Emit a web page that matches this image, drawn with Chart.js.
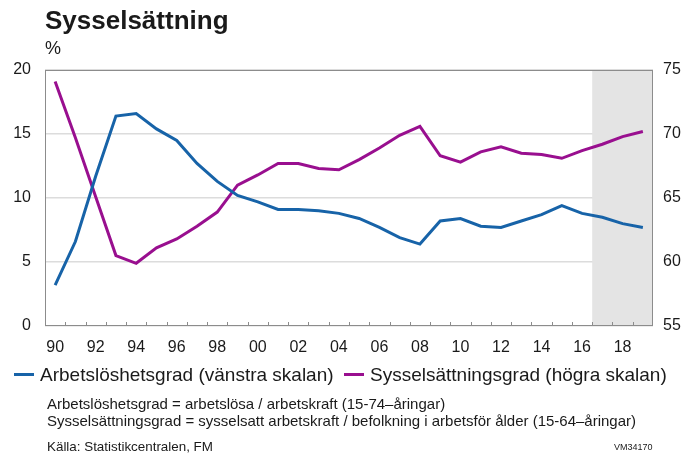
<!DOCTYPE html>
<html>
<head>
<meta charset="utf-8">
<script src="https://cdn.jsdelivr.net/npm/chart.js@4"></script>
<style>
  html, body { margin: 0; padding: 0; background: #fff; }
  body { width: 689px; height: 453px; position: relative; overflow: hidden;
         font-family: "Liberation Sans", Arial, sans-serif; color: #1a1a1a; }
  #chart { position: absolute; left: 0; top: 0; }
  .txt { position: absolute; white-space: nowrap; }
  .title { left: 45px; top: 5px; font-size: 26px; font-weight: bold; }
  .unit { left: 45px; top: 38px; font-size: 18px; }
  .legend { top: 364px; font-size: 19px; }
  .swatch { display: inline-block; width: 20px; height: 3px; vertical-align: middle; margin-right: 6px; position: relative; top: -1px; }
  .note { left: 47px; font-size: 15px; }
  .src { left: 47px; top: 439px; font-size: 13.4px; }
  .code { left: 614px; top: 442px; font-size: 9px; }
</style>
</head>
<body>
<canvas id="chart" width="689" height="453"></canvas>
<div class="txt title">Sysselsättning</div>
<div class="txt unit">%</div>
<div class="txt legend" style="left:14px"><span class="swatch" style="background:#1763a8"></span>Arbetslöshetsgrad (vänstra skalan)</div>
<div class="txt legend" style="left:344px"><span class="swatch" style="background:#990f8f"></span>Sysselsättningsgrad (högra skalan)</div>
<div class="txt note" style="top:395px">Arbetslöshetsgrad = arbetslösa / arbetskraft (15-74–åringar)</div>
<div class="txt note" style="top:412px">Sysselsättningsgrad = sysselsatt arbetskraft / befolkning i arbetsför ålder (15-64–åringar)</div>
<div class="txt src">Källa: Statistikcentralen, FM</div>
<div class="txt code">VM34170</div>
<script>
const years = ["90","91","92","93","94","95","96","97","98","99","00","01","02","03","04",
  "05","06","07","08","09","10","11","12","13","14","15","16","17","18","19"];
const unemployment = [3.2, 6.6, 11.7, 16.4, 16.6, 15.4, 14.5, 12.7, 11.3, 10.2, 9.7, 9.1, 9.1, 9.0, 8.8,
  8.4, 7.7, 6.9, 6.4, 8.2, 8.4, 7.8, 7.7, 8.2, 8.7, 9.4, 8.8, 8.5, 8.0, 7.7];
const employment = [74.1, 69.7, 65.1, 60.5, 59.9, 61.1, 61.8, 62.8, 63.9, 66.0, 66.8, 67.7, 67.7, 67.3, 67.2,
  68.0, 68.9, 69.9, 70.6, 68.3, 67.8, 68.6, 69.0, 68.5, 68.4, 68.1, 68.7, 69.2, 69.8, 70.2];
const leftTicks = [0, 5, 10, 15, 20];
const rightTicks = [55, 60, 65, 70, 75];
const forecastFrom = "17";

const tickFont = { family: "'Liberation Sans', Arial, sans-serif", size: 16 };

// shaded forecast area, frame and inner tick marks
const decor = {
  id: "decor",
  beforeDatasetsDraw(chart) {
    const { ctx, chartArea: a, scales: { x } } = chart;
    const half = (x.getPixelForValue(1) - x.getPixelForValue(0)) / 2;
    const start = x.getPixelForValue(years.indexOf(forecastFrom)) - half;
    ctx.save();
    ctx.fillStyle = "#e4e4e4";
    ctx.fillRect(start, a.top, a.right - start, a.bottom - a.top);
    ctx.restore();
  },
  afterDatasetsDraw(chart) {
    const { ctx, chartArea: a, scales: { x } } = chart;
    const half = (x.getPixelForValue(1) - x.getPixelForValue(0)) / 2;
    ctx.save();
    ctx.strokeStyle = "#8c8c8c";
    ctx.lineWidth = 1;
    ctx.beginPath();
    for (let i = 1; i < years.length; i++) {
      const px = Math.round(x.getPixelForValue(i) - half) + 0.5;
      ctx.moveTo(px, a.bottom);
      ctx.lineTo(px, a.bottom - 4);
    }
    ctx.stroke();
    ctx.strokeRect(a.left + 0.5, a.top + 0.5, a.right - a.left - 1, a.bottom - a.top - 1);
    ctx.restore();
  }
};

new Chart(document.getElementById("chart"), {
  type: "line",
  data: {
    labels: years,
    datasets: [
      { label: "Arbetslöshetsgrad (vänstra skalan)", data: unemployment, yAxisID: "y",
        borderColor: "#1763a8", borderWidth: 3, pointRadius: 0, tension: 0 },
      { label: "Sysselsättningsgrad (högra skalan)", data: employment, yAxisID: "y2",
        borderColor: "#990f8f", borderWidth: 3, pointRadius: 0, tension: 0 }
    ]
  },
  options: {
    responsive: false,
    animation: false,
    layout: { padding: { top: 70, bottom: 97, left: 0, right: 0 } },
    plugins: { legend: { display: false }, tooltip: { enabled: false } },
    scales: {
      x: {
        offset: true,
        grid: { display: false, drawTicks: false },
        border: { display: false },
        afterFit(s) { s.height = 30; },
        ticks: {
          autoSkip: false, maxRotation: 0, padding: 12, color: "#1a1a1a", font: tickFont,
          callback(v, i) { return i % 2 === 0 ? years[i] : ""; }
        }
      },
      y: {
        position: "left", min: 0, max: 20,
        afterFit(s) { s.width = 45; },
        afterBuildTicks(s) { s.ticks = leftTicks.map(v => ({ value: v })); },
        grid: { color: "#dcdcdc", lineWidth: 1.5, drawTicks: false },
        border: { display: false },
        ticks: { padding: 14, color: "#1a1a1a", font: tickFont }
      },
      y2: {
        position: "right", min: 55, max: 75,
        afterFit(s) { s.width = 36; },
        afterBuildTicks(s) { s.ticks = rightTicks.map(v => ({ value: v })); },
        grid: { display: false, drawTicks: false },
        border: { display: false },
        ticks: { padding: 10, color: "#1a1a1a", font: tickFont }
      }
    }
  },
  plugins: [decor]
});
</script>
</body>
</html>
